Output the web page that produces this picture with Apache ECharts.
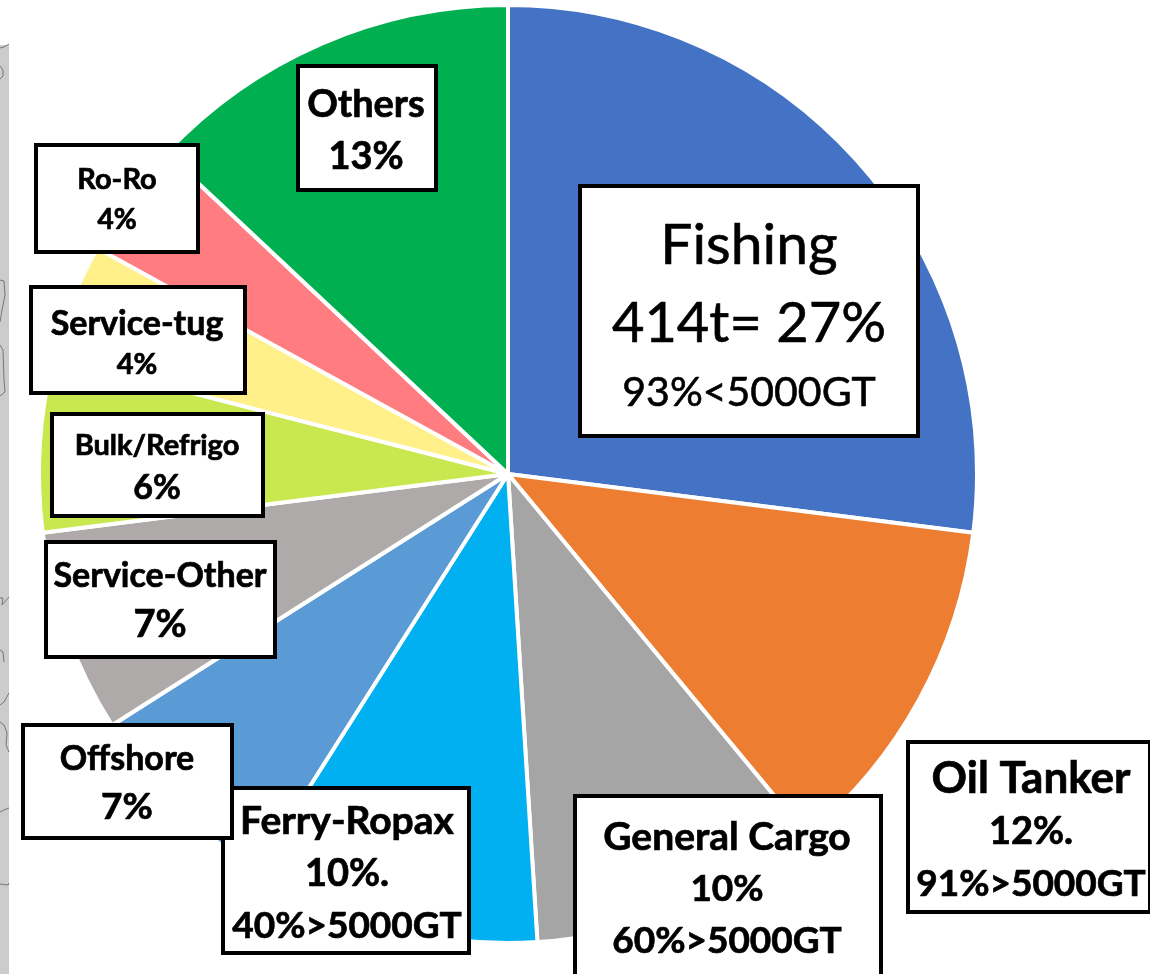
<!DOCTYPE html>
<html>
<head>
<meta charset="utf-8">
<style>html,body{margin:0;padding:0;background:#fff}#chart{width:1150px;height:974px}</style>
<script src="https://cdn.jsdelivr.net/npm/echarts@6/dist/echarts.min.js"></script>
</head>
<body>
<div id="chart"></div>
<script>
// Ship types and their share of the total, clockwise from twelve o'clock
const shipTypes = ['Fishing','Oil Tanker','General Cargo','Ferry-Ropax','Offshore','Service-Other','Bulk/Refrigo','Service-tug','Ro-Ro','Others'];
const shares = [27,12,10,10,7,7,6,4,4,13];
const shareTexts = ['414t= 27%','12%.','10%','10%.','7%','7%','6%','4%','4%','13%'];
const sizeNotes = ['93%<5000GT','91%>5000GT','60%>5000GT','40%>5000GT','','','','','',''];

const sliceColors = ['#4472C4','#ED7D31','#A5A5A5','#00B0F0','#5B9BD5','#AEAAAA','#C9E850','#FFF08A','#FF7C80','#00B050'];

// Callout box geometry: outer [left, top, right, bottom], centre x, line centres, font sizes
const callouts = [
  {box:[578,184,920,438], cx:749, ys:[246,324,393], fs:[57,56,41], weight:'normal'},
  {box:[906,740,1152,914], cx:1031, ys:[779,832,884], fs:[44,38,37], weight:'bold'},
  {box:[573,794,883,980], cx:727, ys:[837,889,941], fs:[39,37,37], weight:'bold'},
  {box:[221,786,471,955], cx:347, ys:[821,874,926], fs:[39,38,37], weight:'bold'},
  {box:[21,723,234,840], cx:127, ys:[759,807], fs:[34,37], weight:'bold'},
  {box:[44,540,277,659], cx:160, ys:[576,625], fs:[34,38], weight:'bold'},
  {box:[50,412,265,518], cx:157, ys:[446,488], fs:[29,34], weight:'bold'},
  {box:[29,285,247,395], cx:137, ys:[324,365], fs:[34,29], weight:'bold'},
  {box:[34,143,200,254], cx:117, ys:[180,220], fs:[29,28], weight:'bold'},
  {box:[296,64,438,192], cx:366, ys:[105,157], fs:[38,38], weight:'bold'}
];

// Grey strip with coastline fragments along the left edge
const strip = [
  {type:'rect', z:1, shape:{x:0,y:45,width:9,height:929}, style:{fill:'#CCCCCC'}},
  ...[
    [[0,48],[4,47],[9,44]],
    [[0,66],[3,70],[3,76],[0,79]],
    [[0,280],[4,281],[5,295],[2,310],[0,322]],
    [[0,345],[3,350],[4,380],[5,392],[0,396]],
    [[0,598],[3,598],[2,605],[9,597]],
    [[0,650],[3,652],[4,662]],
    [[0,705],[4,702],[9,693]],
    [[0,722],[4,725],[7,733],[6,745],[9,752]],
    [[0,812],[4,810],[9,808]],
    [[0,884],[8,885],[9,883]]
  ].map(points => ({type:'polyline', z:2, shape:{points}, style:{fill:null, stroke:'#777', lineWidth:1}}))
];

// One white box per slice, holding its name, share and optional tonnage note
const boxes = callouts.flatMap((c, i) => {
  const lines = [shipTypes[i], shareTexts[i], sizeNotes[i]].filter(Boolean);
  const [l, t, r, b] = c.box;
  return [
    {type:'rect', z:10, shape:{x:l+2,y:t+2,width:r-l-4,height:b-t-4},
     style:{fill:'#fff', stroke:'#000', lineWidth:4}},
    ...lines.map((text, k) => ({
      type:'text', z:11, x:c.cx, y:c.ys[k],
      style:{text, fill:'#000', align:'center', verticalAlign:'middle',
             stroke:'#000', lineWidth: c.weight === 'bold' ? 0.7 : 0.6,
             font:`${c.weight} ${c.fs[k]}px Lato`}
    }))
  ];
});

const chart = echarts.init(document.getElementById('chart'), null, {renderer:'canvas'});
chart.setOption({
  animation:false,
  backgroundColor:'#fff',
  series:[{
    type:'pie',
    center:[508,474],
    radius:[0,469],
    startAngle:90,
    clockwise:true,
    avoidLabelOverlap:false,
    silent:true,
    label:{show:false},
    labelLine:{show:false},
    itemStyle:{borderColor:'#fff', borderWidth:4},
    data:shipTypes.map((name, i) => ({name, value:shares[i], itemStyle:{color:sliceColors[i]}}))
  }],
  graphic:{elements:[...strip, ...boxes]}
});
</script>
</body>
</html>
